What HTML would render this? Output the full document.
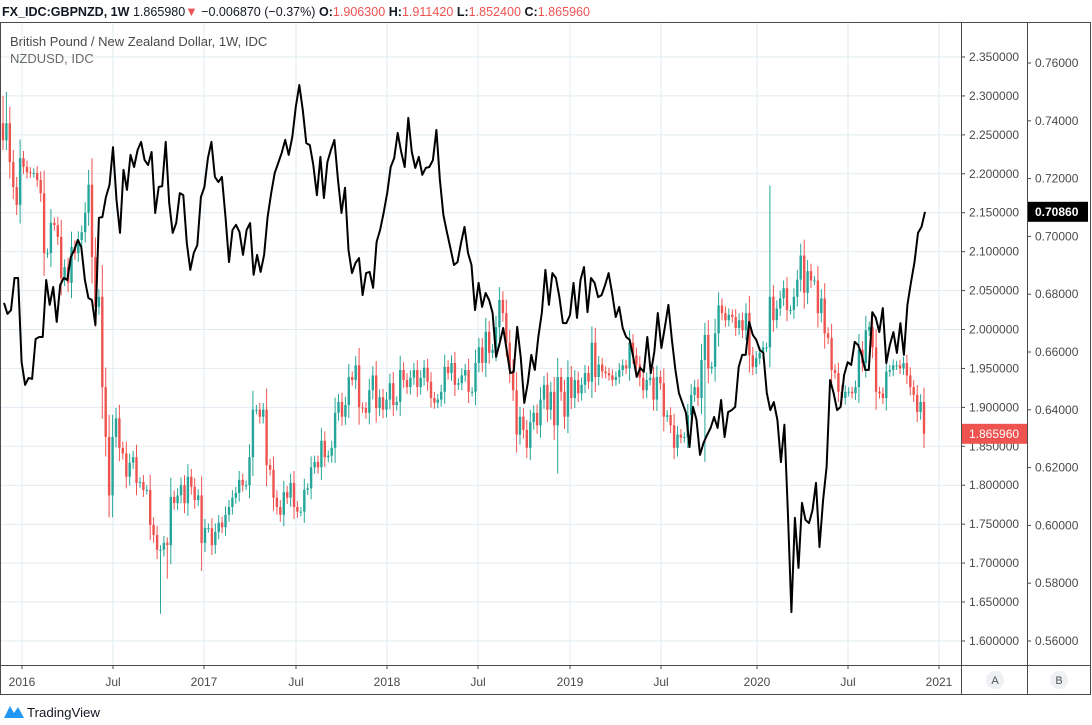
<!DOCTYPE html>
<html><head><meta charset="utf-8">
<style>
html,body{margin:0;padding:0;background:#fff;width:1092px;height:725px;overflow:hidden;font-family:"Liberation Sans",sans-serif;}
svg text{font-family:"Liberation Sans",sans-serif;}
</style></head>
<body>
<svg id="chart" width="1092" height="725" viewBox="0 0 1092 725" xmlns="http://www.w3.org/2000/svg">
<g id="grid"></g>
<g id="candles"></g>
<g id="line"></g>
<g id="frame">
  <rect x="0.5" y="22.5" width="1090" height="672" fill="none" stroke="#4a4a4a" stroke-width="1"/>
  <line x1="961.5" y1="22" x2="961.5" y2="695" stroke="#4a4a4a"/>
  <line x1="1027.5" y1="22" x2="1027.5" y2="695" stroke="#4a4a4a"/>
  <line x1="0" y1="665.5" x2="1091" y2="665.5" stroke="#4a4a4a"/>
</g>
<g id="yaxis1"></g>
<g id="yaxis2"></g>
<g id="xaxis"></g>
<g>
  <text x="2" y="16" font-size="13" fill="#131722" textLength="588" lengthAdjust="spacingAndGlyphs"><tspan font-weight="bold">FX_IDC:GBPNZD, 1W</tspan> 1.865980<tspan fill="#ef5350">▼</tspan> −0.006870 (−0.37%) <tspan font-weight="bold">O:</tspan><tspan fill="#ef5350">1.906300</tspan> <tspan font-weight="bold">H:</tspan><tspan fill="#ef5350">1.911420</tspan> <tspan font-weight="bold">L:</tspan><tspan fill="#ef5350">1.852400</tspan> <tspan font-weight="bold">C:</tspan><tspan fill="#ef5350">1.865960</tspan></text>
</g>
<text x="10" y="46" font-size="13" fill="#4a4a4a">British Pound / New Zealand Dollar, 1W, IDC</text>
<text x="10" y="63" font-size="13" fill="#6a6a6a">NZDUSD, IDC</text>
<g><circle cx="995" cy="680" r="9" fill="#eef0f3"/><text x="995" y="684" font-size="11" fill="#555" text-anchor="middle">A</text></g>
<g><circle cx="1059" cy="680" r="9" fill="#eef0f3"/><text x="1059" y="684" font-size="11" fill="#555" text-anchor="middle">B</text></g>
<g>
  <path d="M4 718 L10 706 L14 713 L18 707 L24 718 Z" fill="#2196f3"/>
  <text x="27" y="717" font-size="13" fill="#131722" textLength="73" lengthAdjust="spacingAndGlyphs">TradingView</text>
</g>
</svg>
<script>
// GBPNZD weekly closes (Nov 2015 - Nov 2020)
const closes = [2.243,2.265,2.215,2.183,2.160,2.220,2.209,2.202,2.201,2.201,2.192,2.175,2.098,2.098,2.137,2.134,2.119,2.066,2.080,2.060,2.106,2.098,2.115,2.125,2.150,2.186,2.093,2.029,2.042,1.926,1.862,1.787,1.862,1.886,1.848,1.841,1.811,1.829,1.836,1.803,1.804,1.794,1.794,1.749,1.736,1.717,1.717,1.726,1.723,1.785,1.777,1.787,1.800,1.777,1.811,1.798,1.781,1.787,1.726,1.745,1.745,1.723,1.740,1.752,1.746,1.762,1.772,1.784,1.790,1.807,1.800,1.800,1.836,1.897,1.897,1.888,1.897,1.826,1.820,1.784,1.772,1.762,1.791,1.784,1.803,1.772,1.766,1.766,1.794,1.796,1.823,1.830,
1.823,1.857,1.836,1.838,1.848,1.893,1.907,1.888,1.903,1.939,1.935,1.954,1.900,1.899,1.893,1.922,1.941,1.899,1.913,1.897,1.910,1.931,1.903,1.907,1.948,1.935,1.926,1.938,1.948,1.926,1.938,1.951,1.933,1.912,1.906,1.910,1.920,1.952,1.944,1.957,1.929,1.931,1.941,1.948,1.920,1.920,1.957,1.977,1.957,1.997,1.970,1.974,2.003,2.038,2.021,1.983,1.948,1.922,1.865,1.888,1.871,1.848,1.881,1.893,1.877,1.910,1.929,1.897,1.920,1.877,1.939,1.920,1.888,1.939,1.912,1.935,1.918,1.929,1.944,1.933,1.983,1.939,1.955,1.946,1.944,1.941,1.935,1.939,1.948,1.954,1.950,1.983,1.967,1.955,1.938,1.922,
1.935,1.938,1.910,1.939,1.931,1.888,1.890,1.877,1.848,1.865,1.861,1.862,1.890,1.916,1.926,1.912,1.961,1.993,1.950,1.952,1.995,2.031,2.021,2.012,2.019,2.016,2.002,2.012,1.999,2.021,1.967,1.952,1.963,1.970,1.977,1.977,2.042,2.012,2.027,2.040,2.053,2.025,2.025,2.042,2.064,2.095,2.047,2.075,2.063,2.063,2.021,2.040,1.995,1.989,1.948,1.944,1.920,1.912,1.920,1.920,1.918,1.926,1.974,1.957,1.999,2.003,1.977,1.920,1.918,1.912,1.946,1.948,1.954,1.954,1.950,1.957,1.941,1.926,1.916,1.894,1.907,1.866];
const firstOpen = 2.265;
// notable wick extremes: [index, value]
const wickHighs = [[0,2.300],[1,2.305],[25,2.205],[42,1.800],[224,2.185]];
const wickLows = [[46,1.635],[48,1.680],[58,1.690],[162,1.815],[205,1.830],[273,1.852]];
// NZDUSD weekly closes
const nzd = [0.6770,0.6732,0.6745,0.6856,0.6856,0.6565,0.6486,0.6510,0.6507,0.6645,0.6652,0.6652,0.6849,0.6763,0.6825,0.6704,0.6832,
0.6856,0.6849,0.6929,0.6953,0.6988,0.6963,0.6849,0.6787,0.6780,0.6693,0.7064,0.7067,0.7136,0.7178,0.7309,0.7126,0.7012,0.7230,0.7161,0.7282,0.7240,0.7299,0.7327,0.7264,0.7247,0.7292,0.7081,0.7171,0.7174,0.7327,0.7116,0.7012,0.7046,0.7150,0.7143,0.6977,0.6884,0.6943,0.6970,0.7136,0.7171,0.7271,0.7327,0.7206,0.7188,0.7206,0.7067,0.6911,0.7022,0.7040,0.7015,0.6936,0.7022,0.7046,0.6867,0.6936,0.6877,0.6936,0.7067,0.7150,0.7219,0.7254,0.7289,0.7334,0.7282,0.7344,0.7448,0.7524,0.7437,0.7323,0.7316,0.7247,0.7143,0.7275,
0.7133,0.7257,0.7299,0.7334,0.7195,0.7081,0.7168,0.6953,0.6873,0.6908,0.6925,0.6797,0.6873,0.6877,0.6822,0.6981,0.7022,0.7081,0.7150,0.7240,0.7271,0.7358,0.7292,0.7240,0.7410,0.7292,0.7237,0.7275,0.7213,0.7237,0.7240,0.7264,0.7368,0.7195,0.7074,0.7015,0.6960,0.6901,0.6911,0.6977,0.7033,0.6943,0.6901,0.6745,0.6839,0.6756,0.6804,0.6780,0.6735,0.6583,0.6631,0.6683,0.6607,0.6527,0.6531,0.6687,0.6583,0.6424,0.6493,0.6590,0.6538,0.6652,0.6735,0.6884,0.6763,0.6873,0.6856,0.6790,0.6700,0.6700,0.6728,0.6839,0.6718,0.6849,0.6894,0.6738,0.6856,0.6839,0.6790,0.6797,0.6832,0.6873,0.6804,0.6721,0.6756,0.6683,0.6652,0.6642,0.6583,0.6514,0.6545,0.6531,0.6652,0.6527,
0.6600,0.6735,0.6614,0.6687,0.6763,0.6642,0.6538,0.6458,0.6424,0.6389,0.6271,0.6410,0.6365,0.6244,0.6285,0.6313,0.6337,0.6375,0.6337,0.6434,0.6306,0.6392,0.6399,0.6410,0.6548,0.6590,0.6590,0.6704,0.6659,0.6642,0.6607,0.6597,0.6458,0.6399,0.6427,0.6365,0.6219,0.6348,0.6043,0.5700,0.6026,0.5853,0.6078,0.6019,0.6008,0.6053,0.6147,0.5925,0.6088,0.6202,0.6503,0.6458,0.6399,0.6410,0.6520,0.6565,0.6555,0.6635,0.6624,0.6590,0.6538,0.6538,0.6738,0.6718,0.6669,0.6752,0.6562,0.6624,0.6669,0.6597,0.6700,0.6590,0.6763,0.6839,0.6911,0.7012,0.7033,0.7085];
const gbpTicks = [2.35,2.30,2.25,2.20,2.15,2.10,2.05,2.00,1.95,1.90,1.85,1.80,1.75,1.70,1.65,1.60];
const nzdTicks = [0.76,0.74,0.72,0.70,0.68,0.66,0.64,0.62,0.60,0.58,0.56];
const timeLabels = ["2016","Jul","2017","Jul","2018","Jul","2019","Jul","2020","Jul","2021"];
const timeLabelX = [22,113,204,296,387,478,570,661,757,848,939];
const lastNzd = "0.70860";
const lastGbp = "1.865960";

const NS = "http://www.w3.org/2000/svg";
function yG(p){ return 57 + (2.35 - p) * 778.6; }
function yN(v){ return 63 + (0.76 - v) * 2890; }
const X0 = 3, X1 = 924;
function xC(i){ return X0 + i * (X1 - X0) / (closes.length - 1); }
function xN(i){ return 4 + i * (925 - 4) / (nzd.length - 1); }
function mk(tag, attrs, parent){ const e = document.createElementNS(NS, tag); for (const k in attrs) e.setAttribute(k, attrs[k]); parent.appendChild(e); return e; }

const grid = document.getElementById('grid');
gbpTicks.forEach(t => {
  const l = mk('line', {x1:0, x2:961, y1:yG(t).toFixed(1), y2:yG(t).toFixed(1), stroke:'#e1ecf2', 'stroke-width':1}, grid);
  
  
});
timeLabelX.forEach(x => {
  const l = mk('line', {x1:x, x2:x, y1:22, y2:665, stroke:'#e1ecf2', 'stroke-width':1}, grid);
  
  
});

const cg = document.getElementById('candles');
const hiMap = {}; wickHighs.forEach(a => hiMap[a[0]] = a[1]);
const loMap = {}; wickLows.forEach(a => loMap[a[0]] = a[1]);
closes.forEach((c, i) => {
  const o = i === 0 ? firstOpen : closes[i-1];
  const d = Math.abs(o - c) * 0.3 + 0.006;
  const h = hiMap[i] !== undefined ? hiMap[i] : Math.max(o, c) + d;
  const lo = loMap[i] !== undefined ? loMap[i] : Math.min(o, c) - d;
  const col = c >= o ? '#26a69a' : '#ef5350';
  const x = xC(i);
  const w = mk('line', {x1:x.toFixed(1), x2:x.toFixed(1), y1:yG(h).toFixed(1), y2:yG(lo).toFixed(1), stroke:col, 'stroke-width':1}, cg);
  
  
  const top = yG(Math.max(o, c)), bh = Math.max(1, yG(Math.min(o, c)) - top);
  const b = mk('rect', {x:(x-1.2).toFixed(1), y:top.toFixed(1), width:2.4, height:bh.toFixed(1), fill:col}, cg);
  
  
});

const lg = document.getElementById('line');
const pts = nzd.map((v, i) => xN(i).toFixed(1) + ',' + yN(v).toFixed(1)).join(' ');
const pl = mk('polyline', {points:pts, fill:'none', stroke:'#000', 'stroke-width':2, 'stroke-linejoin':'round'}, lg);



const ya1 = document.getElementById('yaxis1');
gbpTicks.forEach(t => {
  const y = yG(t);
  mk('line', {x1:961, x2:965, y1:y, y2:y, stroke:'#4a4a4a'}, ya1);
  const tx = mk('text', {x:969, y:(y+4).toFixed(1), 'font-size':12, fill:'#4a4a4a'}, ya1);
  tx.textContent = t.toFixed(6);
  
  
});
const ya2 = document.getElementById('yaxis2');
nzdTicks.forEach(t => {
  const y = yN(t);
  mk('line', {x1:1027, x2:1031, y1:y, y2:y, stroke:'#4a4a4a'}, ya2);
  const tx = mk('text', {x:1035, y:(y+4).toFixed(1), 'font-size':12, fill:'#4a4a4a'}, ya2);
  tx.textContent = t.toFixed(5);
  
  
});
const yl = yG(closes[closes.length-1]);
const rb = mk('rect', {x:962, y:(yl-10).toFixed(1), width:65, height:20, fill:'#ef5350'}, ya1);


const rt = mk('text', {x:969, y:(yl+4).toFixed(1), 'font-size':12, fill:'#fff'}, ya1);
rt.textContent = lastGbp;


const yn = yN(nzd[nzd.length-1]);
const nb = mk('rect', {x:1028, y:(yn-10).toFixed(1), width:60, height:20, fill:'#000'}, ya2);


const nt = mk('text', {x:1035, y:(yn+4).toFixed(1), 'font-size':12, fill:'#fff', 'font-weight':'bold'}, ya2);
nt.textContent = lastNzd;



const xa = document.getElementById('xaxis');
timeLabels.forEach((s, i) => {
  const x = timeLabelX[i];
  mk('line', {x1:x, x2:x, y1:665, y2:669, stroke:'#4a4a4a'}, xa);
  const tx = mk('text', {x:x, y:686, 'font-size':12, fill:'#4a4a4a', 'text-anchor':'middle'}, xa);
  tx.textContent = s;
  
  
});
</script>
</body></html>
